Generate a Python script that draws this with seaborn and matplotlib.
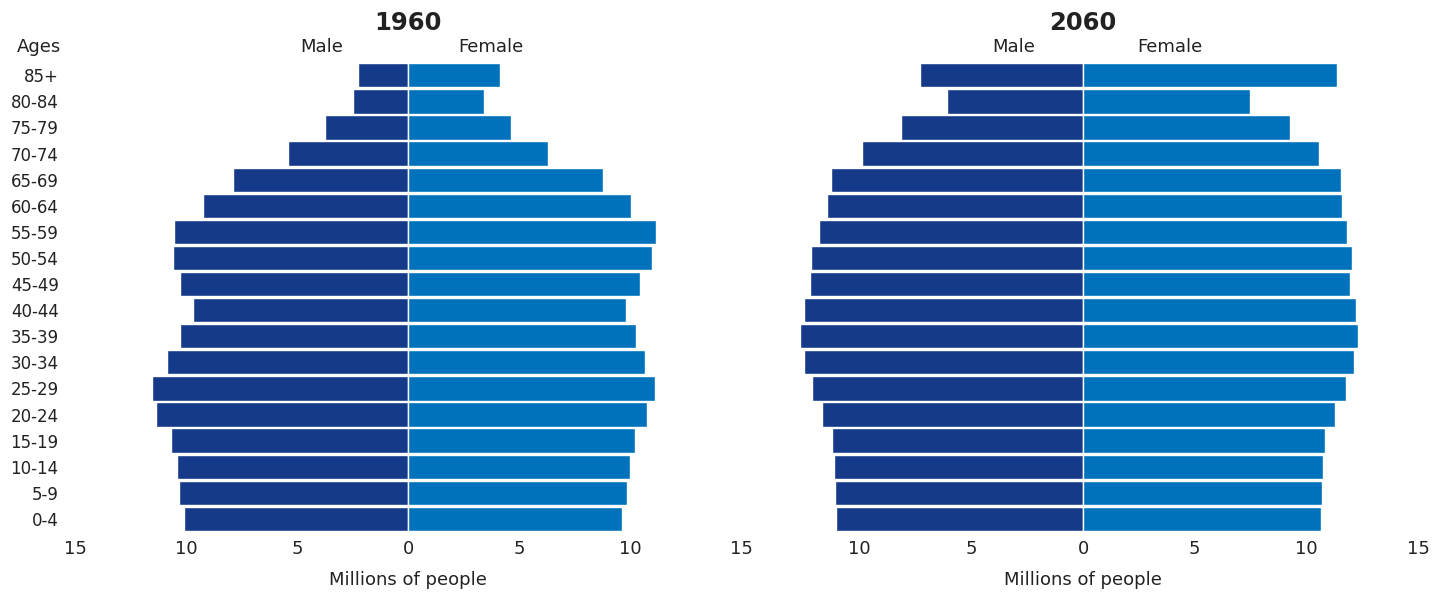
import matplotlib
matplotlib.use("Agg")
import matplotlib.pyplot as plt
import seaborn as sns
import pandas as pd

# Data (millions of people)
ages = ["85+", "80-84", "75-79", "70-74", "65-69", "60-64", "55-59", "50-54",
        "45-49", "40-44", "35-39", "30-34", "25-29", "20-24", "15-19",
        "10-14", "5-9", "0-4"]

male_1960 = [2.25, 2.48, 3.74, 5.4, 7.88, 9.23, 10.54, 10.59, 10.27, 9.68,
             10.27, 10.86, 11.53, 11.35, 10.68, 10.41, 10.32, 10.09]
female_1960 = [4.14, 3.42, 4.64, 6.31, 8.78, 10.05, 11.17, 10.99, 10.45, 9.82,
               10.27, 10.68, 11.13, 10.77, 10.23, 10.0, 9.86, 9.64]

male_2060 = [7.31, 6.1, 8.16, 9.91, 11.3, 11.48, 11.84, 12.2, 12.24, 12.51,
             12.69, 12.51, 12.15, 11.7, 11.26, 11.17, 11.12, 11.08]
female_2060 = [11.39, 7.49, 9.28, 10.58, 11.57, 11.61, 11.84, 12.06, 11.97, 12.24,
               12.33, 12.15, 11.79, 11.3, 10.85, 10.76, 10.72, 10.67]

male_color = "#163a8a"
female_color = "#0072bb"
text_color = "#222222"

sns.set_theme(style="white")
plt.rcParams['font.family'] = ['DejaVu Sans']


def long_frame(male, female):
    df_m = pd.DataFrame({"age": ages, "value": [-v for v in male], "sex": "Male"})
    df_f = pd.DataFrame({"age": ages, "value": female, "sex": "Female"})
    return pd.concat([df_m, df_f], ignore_index=True)


fig = plt.figure(figsize=(14.48, 5.93), dpi=100)
ax1 = fig.add_axes([0.052, 0.103, 0.460, 0.792])
ax2 = fig.add_axes([0.5166, 0.103, 0.4627, 0.792])

panels = [
    (ax1, "1960", male_1960, female_1960, [-15, -10, -5, 0, 5, 10, 15], (-3.9, 3.7)),
    (ax2, "2060", male_2060, female_2060, [-10, -5, 0, 5, 10, 15], (-3.1, 3.9)),
]

for ax, year, male, female, ticks, (mx, fx) in panels:
    df = long_frame(male, female)
    sns.barplot(data=df, x="value", y="age", hue="sex", order=ages,
                hue_order=["Male", "Female"],
                palette={"Male": male_color, "Female": female_color},
                dodge=False, width=0.93, orient="h", legend=False,
                edgecolor="white", linewidth=1.0, saturation=1, ax=ax)
    ax.set_xlim(-15, 15)
    ax.set_ylim(len(ages) - 0.5, -0.5)
    ax.set_xticks(ticks)
    ax.set_xticklabels([str(abs(t)) for t in ticks], fontsize=13, color=text_color)
    ax.tick_params(axis="x", length=0, pad=6)
    ax.set_xlabel("Millions of people", fontsize=13, color=text_color, labelpad=9)
    ax.set_ylabel("")
    for s in ax.spines.values():
        s.set_visible(False)
    ax.set_title(year, fontsize=17.5, fontweight="bold", color=text_color, pad=23)
    ax.text(mx, 1.013, "Male", transform=ax.get_xaxis_transform(), ha="center",
            va="bottom", fontsize=13, color=text_color)
    ax.text(fx, 1.013, "Female", transform=ax.get_xaxis_transform(), ha="center",
            va="bottom", fontsize=13, color=text_color)

ax1.tick_params(axis="y", length=0, pad=12, labelsize=12, labelcolor=text_color)
ax2.set_yticks([])

fig.text(0.027, 0.905, "Ages", ha="center", va="bottom", fontsize=13, color=text_color)

fig.savefig("out.png", dpi=100)
